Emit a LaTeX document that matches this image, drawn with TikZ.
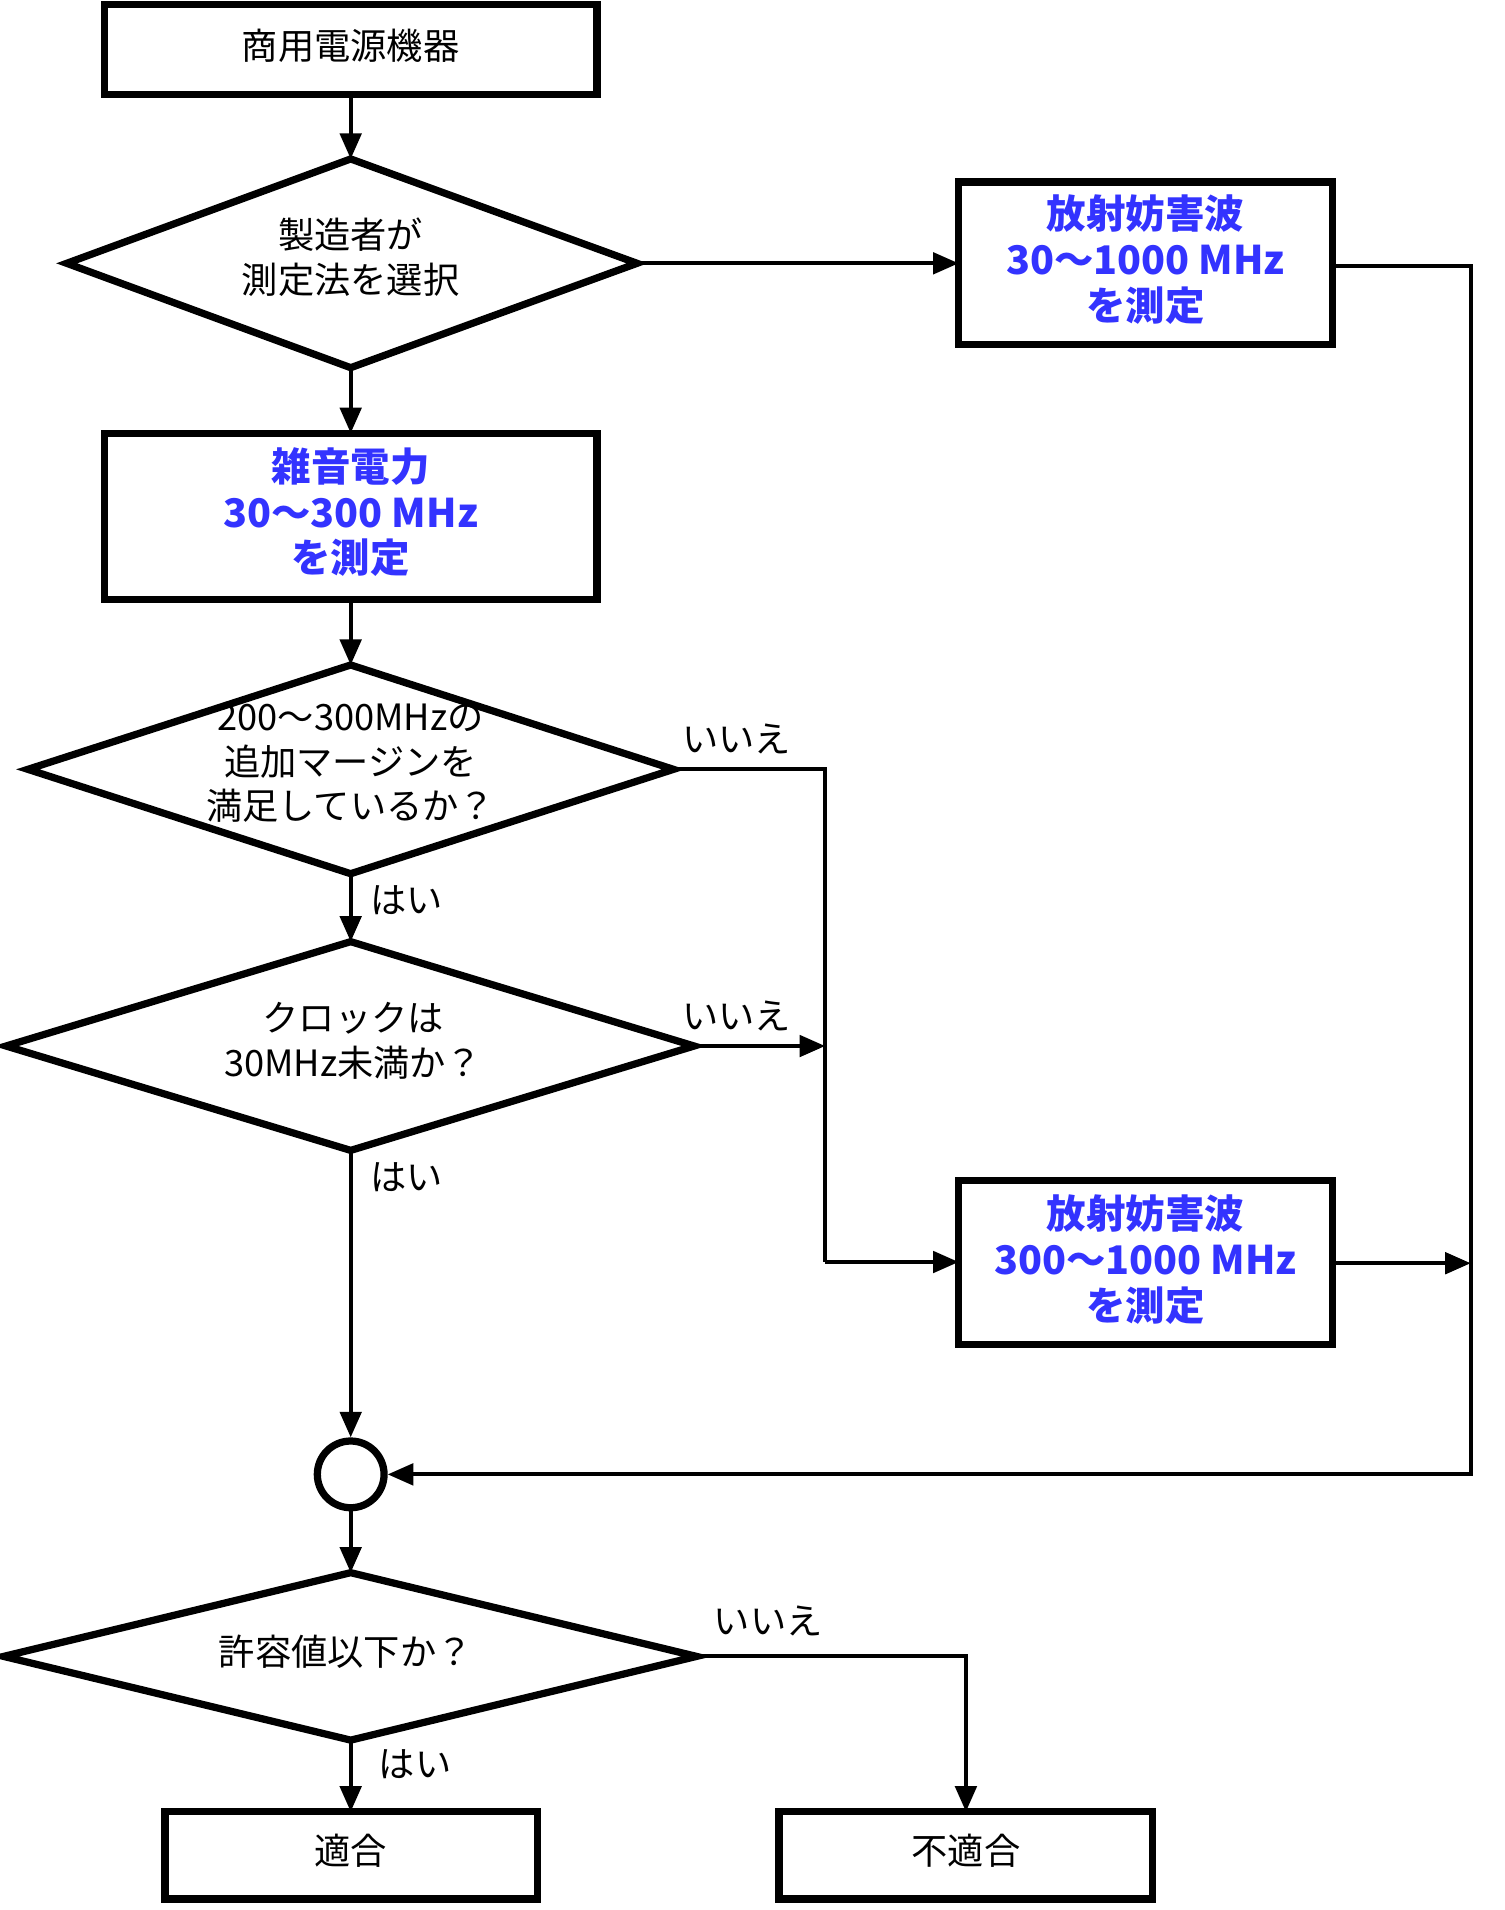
\documentclass[tikz,border=0pt]{standalone}
\usepackage{fontspec}
\setmainfont{Noto Sans CJK JP}
\usetikzlibrary{arrows.meta}
\definecolor{bl}{HTML}{3333FF}
\begin{document}
\begin{tikzpicture}[x=0.02cm,y=-0.02cm,
 box/.style={draw,line width=3.4pt},
 conn/.style={line width=1.9pt},
 arr/.style={conn,-{Triangle[length=12pt,width=10pt]}},
 t/.style={font=\fontsize{17}{21}\selectfont,align=center},
 bt/.style={font=\fontsize{18.5}{21.5}\selectfont\bfseries,text=bl,align=center},
 lab/.style={font=\fontsize{17}{18}\selectfont}]
\useasboundingbox (0,0) rectangle (1240,1574);
% boxes
\draw[box] (86,4) rectangle (492,78); \node[t] (b1) at (289,38) {商用電源機器};
\coordinate (b1s) at (289,78);
\draw[box] (790,150) rectangle (1098,284); \node[bt] (r1) at (944,214) {放射妨害波\\30～1000 MHz\\を測定};
\coordinate (r1w) at (790,217); \coordinate (r1e) at (1098,219);
\draw[box] (86,357) rectangle (492,494); \node[bt] (b2) at (289,422) {雑音電力\\30～300 MHz\\を測定};
\coordinate (b2n) at (289,357); \coordinate (b2s) at (289,494);
\draw[box] (790,973) rectangle (1098,1108); \node[bt] (r2) at (944,1038) {放射妨害波\\300～1000 MHz\\を測定};
\coordinate (r2w) at (790,1040); \coordinate (r2e) at (1098,1041);
\draw[box] (136,1493) rectangle (443,1565); \node[t] (ok) at (289,1525) {適合};
\draw[box] (642,1493) rectangle (950,1565); \node[t] (ng) at (796,1525) {不適合};
\coordinate (okn) at (289,1493); \coordinate (ngn) at (796,1493);
% diamonds
\draw[box] (55,217)--(289,131)--(525,217)--(289,303)--cycle;
\node[t] (d1) at (289,212) {製造者が\\測定法を選択};
\coordinate (d1n) at (289,131); \coordinate (d1e) at (525,217); \coordinate (d1s) at (289,303);
\draw[box] (23,634)--(289,548)--(555,634)--(289,720)--cycle;
\node[t] (d2) at (289,629) {200～300MHzの\\追加マージンを\\満足しているか？};
\coordinate (d2n) at (289,548); \coordinate (d2e) at (555,634); \coordinate (d2s) at (289,720);
\draw[box] (5,862)--(289,776)--(572,862)--(289,948)--cycle;
\node[t] (d3) at (291,858) {クロックは\\30MHz未満か？};
\coordinate (d3n) at (289,776); \coordinate (d3e) at (572,862); \coordinate (d3s) at (289,948);
\draw[box] (3,1365)--(289,1296)--(574,1365)--(289,1434)--cycle;
\node[t] (d4) at (285,1361) {許容値以下か？};
\coordinate (d4n) at (289,1296); \coordinate (d4e) at (574,1365); \coordinate (d4s) at (289,1434);
% circle
\node[draw,circle,line width=3.4pt,minimum size=1.1cm,inner sep=0] (c) at (289,1215) {};
% connectors
\draw[arr] (b1s)--(d1n);
\draw[arr] (d1e)--(r1w);
\draw[arr] (d1s)--(b2n);
\draw[arr] (b2s)--(d2n);
\draw[arr] (d2s)--(d3n);
\coordinate (m1) at (680,634); \coordinate (m2) at (680,862); \coordinate (m3) at (680,1040);
\draw[conn] (d2e)--(m1)--(m3);
\draw[arr] (d3e)--(m2);
\draw[arr] (m3)--(r2w);
\draw[arr] (d3s)--(c.north);
\coordinate (rr1) at (1212,219); \coordinate (rr2) at (1212,1041); \coordinate (rr3) at (1212,1215);
\draw[arr] (r1e)--(rr1)--(rr3)--(c.east);
\draw[arr] (r2e)--(rr2);
\draw[arr] (c.south)--(d4n);
\draw[arr] (d4s)--(okn);
\coordinate (n1) at (796,1365);
\draw[arr] (d4e)--(n1)--(ngn);
% labels
\node[lab] (l1) at (607,609) {いいえ};
\node[lab] (l2) at (335,742) {はい};
\node[lab] (l3) at (607,837) {いいえ};
\node[lab] (l4) at (335,970) {はい};
\node[lab] (l5) at (633,1336) {いいえ};
\node[lab] (l6) at (342,1454) {はい};
\end{tikzpicture}
\end{document}
